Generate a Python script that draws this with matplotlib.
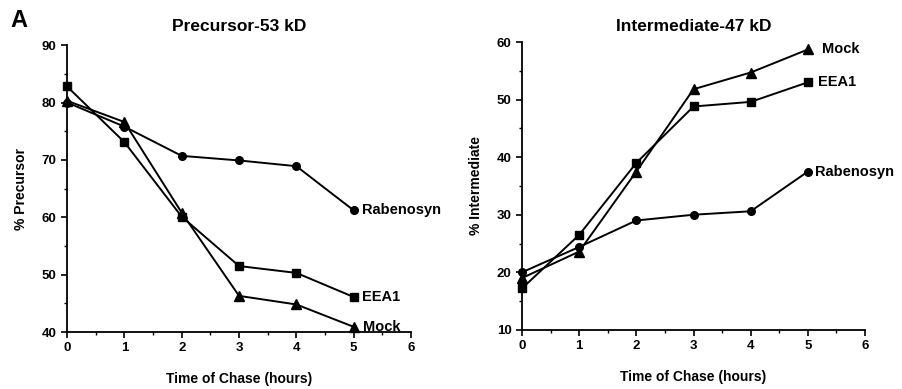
import matplotlib
matplotlib.use("Agg")
import matplotlib.pyplot as plt
from matplotlib.ticker import MultipleLocator

plt.rcParams['font.family'] = ['Liberation Sans', 'DejaVu Sans']
plt.rcParams['font.weight'] = 'bold'

hours = [0, 1, 2, 3, 4, 5]

# Precursor-53 kD (% precursor)
pre_rabenosyn = [80.0, 75.8, 70.7, 69.9, 68.9, 61.2]
pre_eea1 = [82.8, 73.1, 60.1, 51.5, 50.3, 46.1]
pre_mock = [80.3, 76.6, 60.8, 46.3, 44.8, 40.9]

# Intermediate-47 kD (% intermediate)
int_rabenosyn = [20.0, 24.4, 29.0, 30.0, 30.6, 37.5]
int_eea1 = [17.2, 26.5, 39.0, 48.8, 49.6, 53.0]
int_mock = [19.0, 23.6, 37.5, 51.8, 54.7, 58.7]

series_names = ["Rabenosyn", "EEA1", "Mock"]
markers = ["o", "s", "^"]

fig = plt.figure(figsize=(9.02, 3.89), dpi=100)
ax1 = fig.add_axes([0.0743, 0.1465, 0.3814, 0.7375])
ax2 = fig.add_axes([0.5787, 0.152, 0.3803, 0.740])

def style(ax, ylim, ymajor, ylabel, title, tpad):
    ax.set_xlim(0, 6)
    ax.set_ylim(*ylim)
    ax.xaxis.set_major_locator(MultipleLocator(1))
    ax.xaxis.set_minor_locator(MultipleLocator(0.5))
    ax.yaxis.set_major_locator(MultipleLocator(ymajor))
    ax.yaxis.set_minor_locator(MultipleLocator(ymajor / 2))
    for s in ['top', 'right']:
        ax.spines[s].set_visible(False)
    for s in ['left', 'bottom']:
        ax.spines[s].set_linewidth(1.3)
    ax.tick_params(which='major', direction='out', length=4, width=1.2, labelsize=9.5)
    ax.tick_params(which='minor', direction='out', length=2.5, width=1.0)
    for lab in ax.get_xticklabels() + ax.get_yticklabels():
        lab.set_fontweight('bold')
    ax.set_ylabel(ylabel, fontsize=10, fontweight='bold', labelpad=10)
    ax.set_xlabel("Time of Chase (hours)", fontsize=10, fontweight='bold', labelpad=13)
    ax.set_title(title, fontsize=12.5, fontweight='bold', pad=tpad)

for ax, data in [(ax1, [pre_rabenosyn, pre_eea1, pre_mock]),
                 (ax2, [int_rabenosyn, int_eea1, int_mock])]:
    for vals, m in zip(data, markers):
        ax.plot(hours, vals, color='black', lw=1.4, marker=m, ms=5.5 if m != '^' else 7.5,
                clip_on=False, zorder=3)

style(ax1, (40, 90), 10, "% Precursor", "Precursor-53 kD", 10)
style(ax2, (10, 60), 10, "% Intermediate", "Intermediate-47 kD", 8)

# direct labels at the end of each line
for ax, data, offs in [(ax1, [pre_rabenosyn, pre_eea1, pre_mock], [0.14, 0.14, 0.16]),
                       (ax2, [int_rabenosyn, int_eea1, int_mock], [0.13, 0.17, 0.24])]:
    for name, vals, dx in zip(series_names, data, offs):
        ax.text(hours[-1] + dx, vals[-1], name, fontsize=10.5, fontweight='bold',
                va='center', ha='left', clip_on=False)

fig.text(0.011, 0.948, "A", fontsize=17, fontweight='bold', va='center')

fig.savefig("out.png", dpi=100)
